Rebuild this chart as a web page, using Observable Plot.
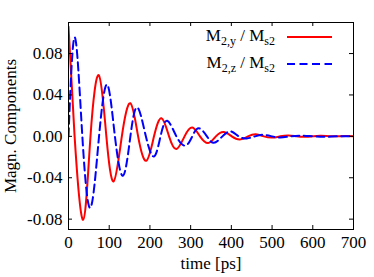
<!DOCTYPE html>
<html><head><meta charset="utf-8">
<script src="https://cdn.jsdelivr.net/npm/d3@7"></script>
<script src="https://cdn.jsdelivr.net/npm/@observablehq/plot@0.6"></script>
<style>
body{margin:0;background:#fff;}
#wrap{position:relative;width:374px;height:277px;}
#wrap svg text{font-family:"Liberation Serif",serif;}
.lrow{position:absolute;left:150px;width:125px;text-align:right;font-family:"Liberation Serif",serif;font-size:17px;color:#000;line-height:20px;white-space:nowrap;}
.lrow sub{font-size:12px;vertical-align:-4px;line-height:0;}
.lsw{position:absolute;left:286px;}
</style></head><body><div id="wrap"></div>
<script>
// Red solid: M2,y / Ms2
const tRed = [0, 15, 36, 54, 74.5, 93, 111, 131, 152, 171, 191, 210, 228.5, 247, 265, 285, 304, 323, 343, 362, 381, 401, 421, 441, 460, 480, 500, 520, 540, 560, 580, 600, 620, 650, 680, 700];
const yRed = [0.106, 0, -0.0806, 0, 0.059, 0, -0.0435, 0, 0.032, 0, -0.0236, 0, 0.0175, 0, -0.0123, 0, 0.0085, 0, -0.0065, 0, 0.0042, 0, -0.003, 0, 0.002, 0, -0.0012, 0, 0.0008, 0, -0.0005, 0, 0.0005, 0, 0.0003, 0];
// Blue dashed: M2,z / Ms2
const tBlue = [0, 15.5, 34, 54, 75, 95, 114, 134, 152, 169, 190, 210, 226, 242.5, 265, 287, 304, 320, 340, 357, 378, 398, 418, 438, 458, 478, 500, 520, 545, 570, 600, 630, 660, 700];
const yBlue = [0, 0.0957, 0, -0.069, 0, 0.050, 0, -0.038, 0, 0.028, 0, -0.0194, 0, 0.015, 0, -0.009, 0, 0.0078, 0, -0.0062, 0, 0.0048, 0, -0.002, 0, 0.0015, 0, -0.001, 0, 0.0007, 0, -0.0004, 0, 0];
const xTicks = [0, 100, 200, 300, 400, 500, 600, 700];
const yTicks = [-0.08, -0.04, 0, 0.04, 0.08];
const xLabel = "time [ps]";
const yLabel = "Magn. Components";
const legendRows = [
  {html: "M<sub>2,y</sub> / M<sub>s2</sub>", color: "#ff0000", dash: null},
  {html: "M<sub>2,z</sub> / M<sub>s2</sub>", color: "#0000ff", dash: "8,4.5"}
];

const red = tRed.map((t, i) => ({t, v: yRed[i]}));
const blue = tBlue.map((t, i) => ({t, v: yBlue[i]}));
const FH = 277 - 22 - 48, FW = 374 - 68 - 21, TL = 4;
const FF = "Liberation Serif";

const chart = Plot.plot({
  width: 374, height: 277,
  marginLeft: 68, marginRight: 21, marginTop: 22, marginBottom: 48,
  x: {domain: [0, 700]},
  y: {domain: [-0.09, 0.11]},
  style: {fontFamily: FF, fontSize: "17px", background: "white", color: "#000"},
  marks: [
    Plot.line(red, {x: "t", y: "v", curve: "natural", stroke: "#ff0000", strokeWidth: 2, clip: true}),
    Plot.line(blue, {x: "t", y: "v", curve: "natural", stroke: "#0000ff", strokeWidth: 2, strokeDasharray: "8,4.5", clip: true}),
    Plot.tickX(xTicks, {x: d => d, insetTop: FH - TL, stroke: "#000"}),
    Plot.tickX(xTicks, {x: d => d, insetBottom: FH - TL, stroke: "#000"}),
    Plot.tickY(yTicks, {y: d => d, insetRight: FW - TL, stroke: "#000"}),
    Plot.tickY(yTicks, {y: d => d, insetLeft: FW - TL, stroke: "#000"}),
    Plot.axisX(xTicks, {anchor: "bottom", tickSize: 0, tickPadding: 6, tickFormat: d => String(d), label: null, fontFamily: FF, fontSize: 17}),
    Plot.axisY(yTicks, {anchor: "left", tickSize: 0, tickPadding: 6, tickFormat: d => d.toFixed(2), label: null, fontFamily: FF, fontSize: 17}),
    Plot.text([xLabel], {frameAnchor: "bottom", textAnchor: "middle", dy: 39, text: d => d, fontFamily: FF, fontSize: 17}),
    Plot.text([yLabel], {frameAnchor: "left", textAnchor: "middle", dx: -58, rotate: -90, text: d => d, fontFamily: FF, fontSize: 17}),
    Plot.frame({stroke: "#000", strokeWidth: 1})
  ]
});
const wrap = document.getElementById("wrap");
wrap.appendChild(chart);

const rowCenters = [37, 63.5];
legendRows.forEach((r, i) => {
  const d = document.createElement("div");
  d.className = "lrow";
  d.style.top = (rowCenters[i] - 11) + "px";
  d.innerHTML = r.html;
  wrap.appendChild(d);
  const s = document.createElementNS("http://www.w3.org/2000/svg", "svg");
  s.setAttribute("class", "lsw");
  s.setAttribute("width", 47); s.setAttribute("height", 6);
  s.style.top = (rowCenters[i] - 3) + "px";
  const l = document.createElementNS("http://www.w3.org/2000/svg", "line");
  l.setAttribute("x1", 1); l.setAttribute("x2", 46); l.setAttribute("y1", 3); l.setAttribute("y2", 3);
  l.setAttribute("stroke", r.color); l.setAttribute("stroke-width", 2);
  if (r.dash) l.setAttribute("stroke-dasharray", r.dash);
  s.appendChild(l);
  wrap.appendChild(s);
});
</script>
</body></html>
